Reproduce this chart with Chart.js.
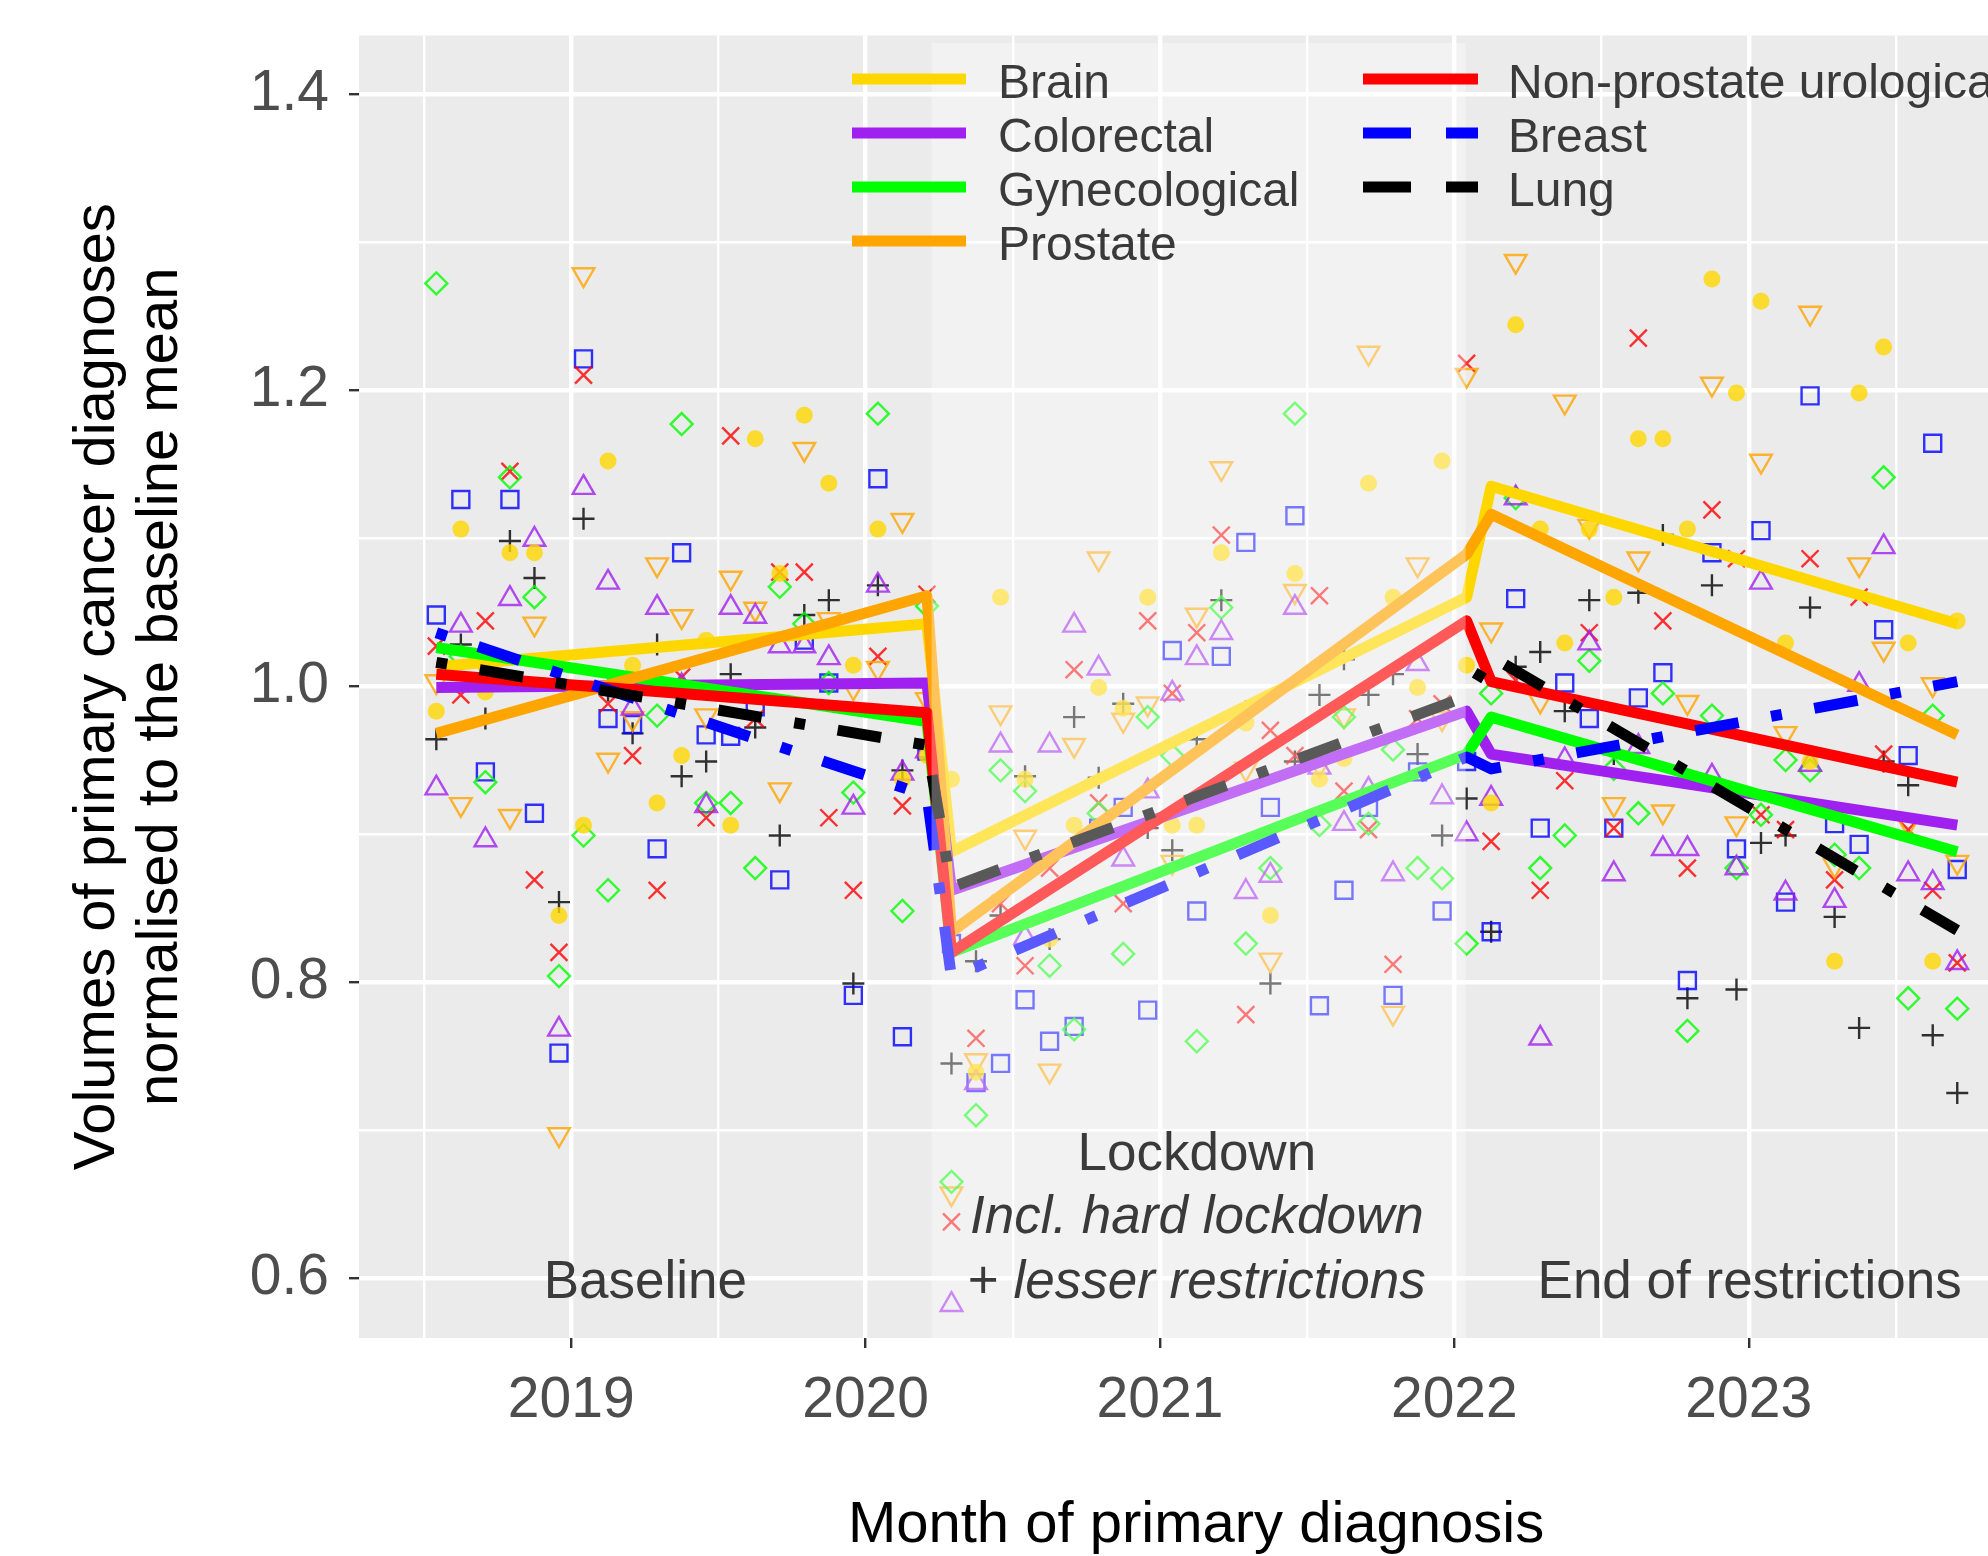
<!DOCTYPE html>
<html><head><meta charset="utf-8">
<script src="https://cdn.jsdelivr.net/npm/chart.js@4.4.1/dist/chart.umd.min.js"></script>
<style>html,body{margin:0;padding:0;overflow:hidden;background:#fff;width:1988px;height:1556px}canvas{display:block}</style>
</head><body><canvas id="c" width="2048" height="1556" style="width:2048px;height:1556px"></canvas>
<script>
// ---------------- DATA ----------------
const months = ["2018-07","2018-08","2018-09","2018-10","2018-11","2018-12",
"2019-01","2019-02","2019-03","2019-04","2019-05","2019-06","2019-07","2019-08","2019-09","2019-10","2019-11","2019-12",
"2020-01","2020-02","2020-03","2020-04","2020-05","2020-06","2020-07","2020-08","2020-09","2020-10","2020-11","2020-12",
"2021-01","2021-02","2021-03","2021-04","2021-05","2021-06","2021-07","2021-08","2021-09","2021-10","2021-11","2021-12",
"2022-01","2022-02","2022-03","2022-04","2022-05","2022-06","2022-07","2022-08","2022-09","2022-10","2022-11","2022-12",
"2023-01","2023-02","2023-03","2023-04","2023-05","2023-06","2023-07","2023-08","2023-09"];

const brain = [0.983,1.106,0.996,1.090,1.090,0.845,0.906,1.152,1.014,0.921,0.953,1.031,0.906,1.167,1.076,1.183,1.137,1.014,1.106,0.937,0.953,
0.937,0.739,1.060,0.937,0.829,0.906,0.999,0.985,1.060,0.906,0.906,1.090,0.975,0.845,1.076,0.937,0.951,1.137,1.060,0.999,1.152,1.014,
0.921,1.244,1.106,1.029,1.106,1.060,1.167,1.167,1.106,1.275,1.198,1.260,1.029,0.949,0.814,1.198,1.229,1.029,0.814,1.044];
const colorectal = [0.931,1.041,0.896,1.059,1.099,0.768,1.134,1.070,0.985,1.053,1.000,0.919,1.053,1.047,1.027,1.027,1.019,0.918,1.068,0.941,0.956,
0.582,0.732,0.960,0.830,0.960,1.041,1.012,0.883,0.929,0.995,1.019,1.036,0.861,0.872,1.053,0.945,0.907,0.930,0.873,1.015,0.925,0.900,
0.924,1.127,0.762,0.950,1.029,0.873,0.959,0.890,0.890,0.939,0.877,1.070,0.860,0.947,0.855,1.001,1.094,0.873,0.867,0.813];
const gynecological = [1.272,1.020,0.935,1.141,1.060,0.804,0.899,0.862,1.000,0.980,1.177,0.921,0.921,0.877,1.067,1.042,1.002,0.928,1.184,0.848,1.054,
0.665,0.710,0.943,0.929,0.811,0.768,0.914,0.819,0.979,0.953,0.760,1.053,0.826,0.877,1.184,0.906,0.979,0.907,0.957,0.877,0.870,0.826,
0.995,1.127,0.877,0.899,1.017,0.944,0.914,0.995,0.767,0.980,0.877,0.913,0.950,0.943,0.886,0.877,1.141,0.789,0.980,0.782];
const prostate = [1.003,0.920,1.013,0.912,1.042,0.697,1.278,0.950,0.978,1.082,1.047,0.980,1.073,1.052,0.930,1.160,1.045,0.999,1.012,1.112,0.991,
0.657,0.747,0.982,0.898,0.740,0.960,1.086,0.977,0.988,0.881,1.048,1.147,0.944,0.815,1.064,0.947,0.980,1.225,0.779,1.082,0.978,1.210,
1.038,1.287,0.990,1.192,1.108,0.920,1.086,0.915,0.989,1.204,0.907,1.152,0.968,1.252,0.879,1.082,1.025,0.907,1.001,0.881];
const nonProstateUro = [1.027,0.994,1.044,1.145,0.869,0.820,1.210,0.988,0.953,0.862,1.006,0.911,1.169,0.978,1.077,1.077,0.911,0.862,1.020,0.919,1.062,
0.638,0.762,0.853,0.811,0.877,1.011,0.921,0.853,1.044,0.995,1.036,1.102,0.778,0.970,0.953,1.061,0.929,0.903,0.812,0.978,0.988,1.218,
0.895,1.004,0.862,0.936,1.036,0.904,1.235,1.044,0.877,1.119,1.086,0.913,0.903,1.086,0.869,1.060,0.954,0.903,0.862,0.813];
const breast = [1.048,1.126,0.942,1.126,0.914,0.752,1.221,0.978,0.974,0.890,1.090,0.967,0.966,0.986,0.869,1.031,1.002,0.791,1.140,0.763,0.956,
0.826,0.732,0.745,0.788,0.760,0.770,0.904,0.918,0.781,1.024,0.848,1.020,1.097,0.918,1.115,0.784,0.862,0.918,0.791,0.942,0.848,0.949,
0.834,1.059,0.904,1.002,0.978,0.904,0.992,1.009,0.801,1.090,0.890,1.105,0.854,1.196,0.907,0.893,1.038,0.953,1.164,0.876];
const lung = [0.964,1.028,0.978,1.098,1.073,0.854,1.113,0.997,0.968,1.028,0.939,0.949,1.008,0.972,0.899,1.048,1.058,0.799,1.068,0.943,0.959,
0.745,0.814,0.845,0.939,0.829,0.979,0.938,0.988,0.904,0.889,0.964,1.058,0.983,0.799,0.949,0.994,1.018,0.994,1.008,0.954,0.899,0.924,
0.834,1.013,1.023,0.983,1.058,0.954,1.063,1.102,0.789,1.068,0.795,0.894,0.899,1.053,0.844,0.769,0.949,0.933,0.764,0.725];

// fitted trend lines (segment end points)
const trendMonths = ["2018-07","2020-03","2020-04","2022-01","2022-02","2023-09"];
const brainTrend        = [1.013,1.042,0.888,1.060,1.135,1.042];
const colorectalTrend   = [0.999,1.002,0.862,0.983,0.954,0.906];
const gynecologicalTrend= [1.026,0.976,0.820,0.954,0.979,0.888];
const prostateTrend     = [0.968,1.061,0.834,1.089,1.116,0.967];
const nonProstateTrend  = [1.008,0.982,0.820,1.044,1.003,0.935];
const breastTrend       = [1.036,0.926,0.803,0.952,0.944,1.003];
const lungTrend         = [1.016,0.960,0.864,0.993,1.020,0.835];

const seriesNames = ["Brain","Colorectal","Gynecological","Prostate","Non-prostate urological","Breast","Lung"];
const lockdownStart = "2020-03-23";
const lockdownEnd = "2022-01-15";

const yMajorTicks = [0.6,0.8,1.0,1.2,1.4];
const yTickLabels = ["0.6","0.8","1.0","1.2","1.4"];
const yMinorTicks = [0.7,0.9,1.1,1.3];
const xMajorTicks = [2019,2020,2021,2022,2023];
const xTickLabels = ["2019","2020","2021","2022","2023"];
const xMinorTicks = [2018.5,2019.5,2020.5,2021.5,2022.5,2023.5];

// ---------------- STYLE ----------------
const colors = ["#FFD700","#A020F0","#00FF00","#FFA500","#FF0000","#0000FF","#000000"];
const pointAlpha = 0.8;
const FONT = '"Liberation Sans", Arial, sans-serif';

function monthToYear(s){const p=s.split('-').map(Number);return p[0]+(p[1]-0.5)/12;}
function dateToYear(s){const p=s.split('-').map(Number);const a=Date.UTC(p[0],0,1),b=Date.UTC(p[0]+1,0,1);return p[0]+(Date.UTC(p[0],p[1]-1,p[2])-a)/(b-a);}
function rgba(hex,a){const n=parseInt(hex.slice(1),16);return `rgba(${(n>>16)&255},${(n>>8)&255},${n&255},${a})`;}

const pointSeries = [brain,colorectal,gynecological,prostate,nonProstateUro,breast,lung];
const trendSeries = [brainTrend,colorectalTrend,gynecologicalTrend,prostateTrend,nonProstateTrend,breastTrend,lungTrend];
const markers = [
  {style:'circle', r:8.5, fill:true, rot:0},
  {style:'triangle', r:12.5, fill:false, rot:0},
  {style:'rectRot', r:11, fill:false, rot:0},
  {style:'triangle', r:12.5, fill:false, rot:180},
  {style:'crossRot', r:12, fill:false, rot:0},
  {style:'rect', r:12, fill:false, rot:0},
  {style:'cross', r:11, fill:false, rot:0}
];
const dashPattern = [11,33,44,33];
const lineDash = [[],[],[],[],[],dashPattern,dashPattern];

const datasets = [];
pointSeries.forEach((arr,i)=>{
  const m = markers[i];
  const c = rgba(colors[i], pointAlpha);
  datasets.push({
    label: seriesNames[i]+' points',
    data: arr.map((v,k)=>({x:monthToYear(months[k]), y:v})),
    showLine:false,
    pointStyle:m.style, pointRadius:m.r, pointRotation:m.rot,
    pointBackgroundColor: m.fill ? c : 'rgba(0,0,0,0)',
    pointBorderColor: c,
    pointBorderWidth: m.fill ? 0 : 2.4,
    pointHoverRadius:m.r,
    order: 20
  });
});
trendSeries.forEach((arr,i)=>{
  datasets.push({
    label: seriesNames[i],
    data: arr.map((v,k)=>({x:monthToYear(trendMonths[k]), y:v})),
    showLine:true,
    borderColor: colors[i],
    borderWidth: 11,
    borderDash: lineDash[i],
    borderCapStyle:'butt',
    borderJoinStyle:'round',
    pointRadius:0, pointHoverRadius:0,
    tension:0,
    order: 6-i
  });
});

const Y_MIN = 0.5595, Y_MAX = 1.4395, X_MIN = 2018.279, X_MAX = 2023.966;
const bandTop = 1.4345;

const bgPlugin = {
  id:'bg',
  beforeDraw(chart){
    const {ctx, chartArea:a} = chart;
    ctx.save();
    ctx.fillStyle='#FFFFFF'; ctx.fillRect(0,0,chart.width,chart.height);
    ctx.fillStyle='#EBEBEB'; ctx.fillRect(a.left,a.top,a.right-a.left,a.bottom-a.top);
    ctx.restore();
  }
};
const bandPlugin = {
  id:'band',
  afterDatasetsDraw(chart){
    const {ctx, chartArea:a, scales:{x,y}} = chart;
    const x1 = x.getPixelForValue(dateToYear(lockdownStart));
    const x2 = x.getPixelForValue(dateToYear(lockdownEnd));
    const y1 = y.getPixelForValue(bandTop);
    ctx.save();
    ctx.fillStyle='rgba(255,255,255,0.35)';
    ctx.fillRect(x1,y1,x2-x1,a.bottom-y1);
    ctx.restore();
  }
};
const annotations = [
  {parts:[{t:'Baseline',it:false}], x:2019.2515, y:0.5865},
  {parts:[{t:'Lockdown',it:false}], x:2021.125, y:0.673},
  {parts:[{t:'Incl. hard lockdown',it:true}], x:2021.125, y:0.6304},
  {parts:[{t:'+ ',it:false},{t:'lesser restrictions',it:true}], x:2021.125, y:0.5865},
  {parts:[{t:'End of restrictions',it:false}], x:2023.003, y:0.5865}
];
const textPlugin = {
  id:'texts',
  afterDraw(chart){
    const {ctx, scales:{x,y}} = chart;
    ctx.save();
    ctx.fillStyle='#3A3A3A';
    ctx.textBaseline='alphabetic';
    ctx.textAlign='left';
    annotations.forEach(an=>{
      const fonts = an.parts.map(p=>(p.it?'italic ':'')+'53px '+FONT);
      let w=0; const ws=[];
      an.parts.forEach((p,i)=>{ctx.font=fonts[i]; const ww=ctx.measureText(p.t).width; ws.push(ww); w+=ww;});
      let px = x.getPixelForValue(an.x)-w/2;
      const py = y.getPixelForValue(an.y);
      an.parts.forEach((p,i)=>{ctx.font=fonts[i]; ctx.fillText(p.t,px,py); px+=ws[i];});
    });
    // legend
    const cols = [{k0:852,k1:966,tx:998,items:[0,1,2,3]},{k0:1363,k1:1478,tx:1508,items:[4,5,6]}];
    const rows = [79,133,187,241];
    ctx.font='48px '+FONT;
    cols.forEach(col=>{
      col.items.forEach((si,r)=>{
        const yy = rows[r];
        ctx.beginPath();
        ctx.strokeStyle=colors[si];
        ctx.lineWidth=11;
        ctx.lineCap='butt';
        ctx.setLineDash(lineDash[si].length? [48,35] : []);
        ctx.moveTo(col.k0,yy); ctx.lineTo(col.k1,yy); ctx.stroke();
        ctx.setLineDash([]);
        ctx.fillStyle='#3A3A3A';
        ctx.fillText(seriesNames[si], col.tx, yy+19);
      });
    });
    ctx.restore();
  }
};

const yAll = yMajorTicks.concat(yMinorTicks).sort((a,b)=>a-b);
const xAll = xMajorTicks.concat(xMinorTicks).sort((a,b)=>a-b);
const isYMajor = v => yMajorTicks.some(t=>Math.abs(t-v)<1e-9);
const isXMajor = v => xMajorTicks.some(t=>Math.abs(t-v)<1e-9);

new Chart(document.getElementById('c'), {
  type:'scatter',
  data:{datasets},
  plugins:[bgPlugin,bandPlugin,textPlugin],
  options:{
    responsive:false, animation:false, devicePixelRatio:1,
    layout:{padding:{left:0,top:35.5,right:11,bottom:0}},
    plugins:{legend:{display:false}, tooltip:{enabled:false}},
    events:[],
    scales:{
      x:{
        type:'linear', position:'bottom', min:X_MIN, max:X_MAX,
        afterBuildTicks(s){ s.ticks = xAll.map(v=>({value:v})); },
        afterFit(s){ s.height = 218; s.paddingLeft=0; s.paddingRight=0; s.paddingTop=0; s.paddingBottom=0; },
        ticks:{
          autoSkip:false, maxRotation:0, minRotation:0, padding:19,
          color:'#4D4D4D', font:{family:FONT, size:57, lineHeight:1.2},
          callback(v){ const i = xMajorTicks.findIndex(t=>Math.abs(t-v)<1e-9); return i>=0 ? xTickLabels[i] : ''; }
        },
        grid:{
          color:'#FFFFFF',
          lineWidth: c => (c.tick && isXMajor(c.tick.value)) ? 4.4 : 2.4,
          tickColor: c => (c.tick && isXMajor(c.tick.value)) ? '#333333' : 'rgba(0,0,0,0)',
          tickWidth: 2.4, tickLength:10, drawTicks:true
        },
        border:{display:false},
        title:{display:true, text:'Month of primary diagnosis', color:'#000000',
          font:{family:FONT, size:58, lineHeight:1.02}, padding:{top:0,bottom:0}}
      },
      y:{
        type:'linear', position:'left', min:Y_MIN, max:Y_MAX,
        afterBuildTicks(s){ s.ticks = yAll.map(v=>({value:v})); },
        afterFit(s){ s.width = 359; s.paddingLeft=0; s.paddingRight=0; s.paddingTop=0; s.paddingBottom=0; },
        ticks:{
          autoSkip:false, padding:20,
          color:'#4D4D4D', font:{family:FONT, size:57, lineHeight:1.0},
          callback(v){ const i = yMajorTicks.findIndex(t=>Math.abs(t-v)<1e-9); return i>=0 ? yTickLabels[i] : ''; }
        },
        grid:{
          color:'#FFFFFF',
          lineWidth: c => (c.tick && isYMajor(c.tick.value)) ? 4.4 : 2.4,
          tickColor: c => (c.tick && isYMajor(c.tick.value)) ? '#333333' : 'rgba(0,0,0,0)',
          tickWidth: 2.4, tickLength:10, drawTicks:true
        },
        border:{display:false},
        title:{display:true, text:['Volumes of primary cancer diagnoses','normalised to the baseline mean'], color:'#000000',
          font:{family:FONT, size:58, lineHeight:1.086}, padding:{top:67,bottom:0}}
      }
    }
  }
});
</script>
</body></html>
